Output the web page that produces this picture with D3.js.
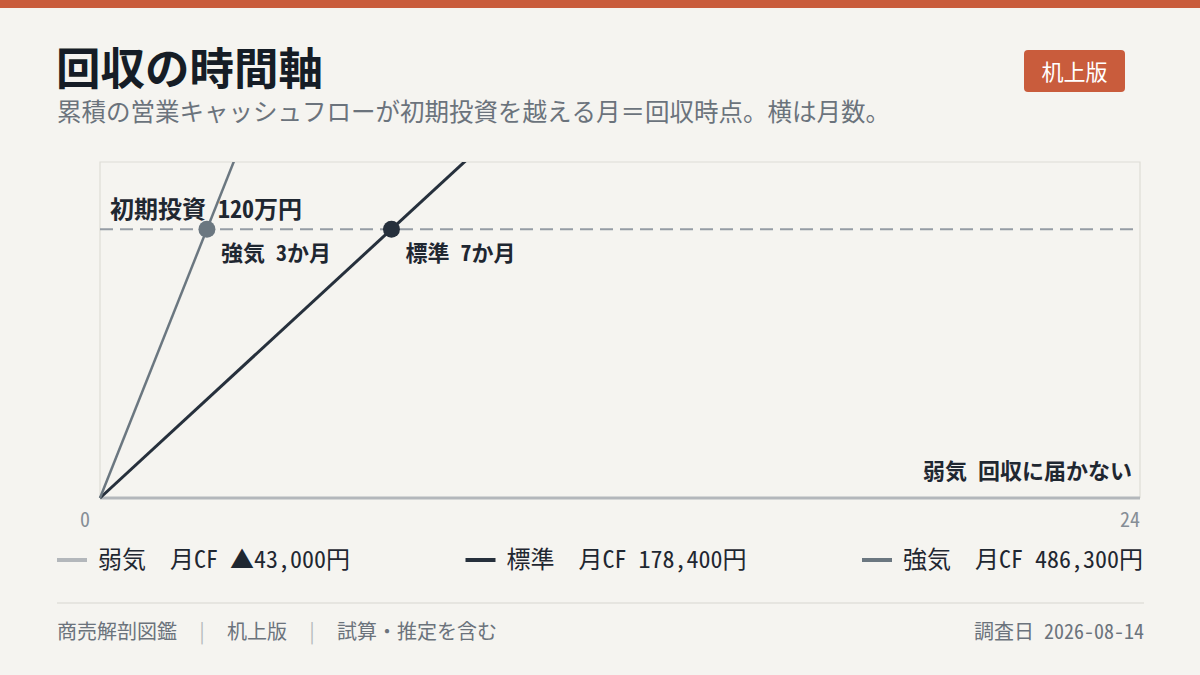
<!DOCTYPE html>
<html lang="ja">
<head>
<meta charset="utf-8">
<script src="https://cdn.jsdelivr.net/npm/d3@7"></script>
<style>
  html, body { margin: 0; padding: 0; background: #f5f4f0; }
  svg { display: block; font-family: "Noto Sans Mono CJK JP", "Noto Sans CJK JP", sans-serif; }
  svg text { white-space: pre; }
</style>
</head>
<body>
<svg id="chart" width="1200" height="675"></svg>
<script>
// Scenario data (monthly operating cash flow, yen).
const scenarios = ['弱気', '標準', '強気'];
const monthlyCF = [-43000, 178400, 486300];
const cfLabels = ['▲43,000円', '178,400円', '486,300円'];
const colors = ['#b3b7bb', '#26303c', '#6b7780'];
const strokeWidths = [3, 3, 2.5];
const months = [0, 24];
const investment = 1200000;
const yMax = 1500000;

const W = 1200, H = 675;
const margin = {top: 162, right: 60, bottom: 177, left: 100};
const width = W - margin.left - margin.right;
const height = H - margin.top - margin.bottom;

const svg = d3.select('#chart');

// Top bar.
svg.append('rect').attr('width', W).attr('height', 8).attr('fill', '#c95c3c');

// Title + subtitle.
svg.append('text').attr('x', 56).attr('y', 85)
  .attr('font-size', 44.5).attr('font-weight', 700).attr('fill', '#161d26')
  .text('回収の時間軸');
svg.append('text').attr('x', 57).attr('y', 121)
  .attr('font-size', 24.5).attr('fill', '#6b737c')
  .text('累積の営業キャッシュフローが初期投資を越える月＝回収時点。横は月数。');

// Badge.
const badge = svg.append('g').attr('transform', 'translate(1024, 50)');
badge.append('rect').attr('width', 101).attr('height', 42).attr('rx', 4).attr('fill', '#c95c3c');
badge.append('text').attr('x', 50.5).attr('y', 29.5).attr('text-anchor', 'middle')
  .attr('font-size', 22).attr('font-weight', 500).attr('fill', '#fff').text('机上版');

// Scales.
const x = d3.scaleLinear().domain([0, 24]).range([0, width]);
const y = d3.scaleLinear().domain([0, yMax]).range([height, 0]);

const g = svg.append('g').attr('transform', `translate(${margin.left}, ${margin.top})`);

g.append('defs').append('clipPath').attr('id', 'plotClip')
  .append('rect').attr('x', -2).attr('y', 0).attr('width', width + 2).attr('height', height + 3);

// Frame.
g.append('path')
  .attr('d', `M0,${height}V0H${width}V${height}`)
  .attr('fill', 'none').attr('stroke', '#dedcd6').attr('stroke-width', 1.2);

// Investment line.
g.append('line')
  .attr('x1', 0).attr('x2', width).attr('y1', y(investment)).attr('y2', y(investment))
  .attr('stroke', '#959ca4').attr('stroke-width', 2).attr('stroke-dasharray', '13,7');
g.append('text').attr('x', 10).attr('y', y(investment) - 11)
  .attr('font-size', 24).attr('font-weight', 700).attr('fill', '#1f2731')
  .text('初期投資 120万円');

// Cumulative lines (clamped at zero, clipped to the frame).
const line = d3.line()
  .x(d => x(d.m))
  .y(d => y(Math.max(0, d.v)));

const lines = g.append('g').attr('clip-path', 'url(#plotClip)');
scenarios.forEach((s, i) => {
  const pts = months.map(m => ({m, v: monthlyCF[i] * m}));
  lines.append('path').datum(pts)
    .attr('d', line)
    .attr('fill', 'none')
    .attr('stroke', colors[i])
    .attr('stroke-width', strokeWidths[i]);
});

// Payback points + labels.
scenarios.forEach((s, i) => {
  if (monthlyCF[i] <= 0) return;
  const pm = investment / monthlyCF[i];
  g.append('circle').attr('cx', x(pm)).attr('cy', y(investment)).attr('r', 8.5)
    .attr('fill', colors[i]);
  g.append('text').attr('x', x(pm) + 14).attr('y', y(investment) + 32)
    .attr('font-size', 22).attr('font-weight', 700).attr('fill', '#1f2731')
    .text(`${s} ${Math.ceil(pm)}か月`);
});
g.append('text').attr('x', width - 8).attr('y', height - 19).attr('text-anchor', 'end')
  .attr('font-size', 22).attr('font-weight', 700).attr('fill', '#1f2731')
  .text('弱気 回収に届かない');

// X tick labels.
g.append('text').attr('x', x(0) - 15).attr('y', height + 29).attr('text-anchor', 'middle')
  .attr('font-size', 20).attr('fill', '#868e96').text(months[0]);
g.append('text').attr('x', x(24)).attr('y', height + 29).attr('text-anchor', 'end')
  .attr('font-size', 20).attr('fill', '#868e96').text(months[1]);

// Legend, spread between left and right edges.
const legend = svg.append('g').attr('transform', 'translate(0, 560)');
const items = scenarios.map((s, i) => {
  const it = legend.append('g');
  it.append('line').attr('x1', 0).attr('x2', 30).attr('y1', 0).attr('y2', 0)
    .attr('stroke', colors[i]).attr('stroke-width', 4);
  it.append('text').attr('x', 41).attr('y', 8)
    .attr('font-size', 24).attr('fill', '#1f2731')
    .text(`${s}　月CF ${cfLabels[i]}`);
  return it;
});
const widths = items.map(it => it.node().getBBox().width);
const left = 57, right = 1143;
const gap = (right - left - d3.sum(widths)) / (items.length - 1);
let cx = left;
items.forEach((it, i) => {
  it.attr('transform', `translate(${cx}, 0)`);
  cx += widths[i] + gap;
});

// Footer.
svg.append('line').attr('x1', 57).attr('x2', 1144).attr('y1', 603).attr('y2', 603)
  .attr('stroke', '#d8d6d0').attr('stroke-width', 1.2);
const foot = svg.append('text').attr('x', 57).attr('y', 639)
  .attr('font-size', 20).attr('fill', '#6b737c');
const footParts = ['商売解剖図鑑', '机上版', '試算・推定を含む'];
footParts.forEach((p, i) => {
  if (i > 0) foot.append('tspan').attr('fill', '#b5b9bd').text('　|　');
  foot.append('tspan').text(p);
});
svg.append('text').attr('x', 1144).attr('y', 639).attr('text-anchor', 'end')
  .attr('font-size', 20).attr('fill', '#6b737c').text('調査日 2026-08-14');
</script>
</body>
</html>
